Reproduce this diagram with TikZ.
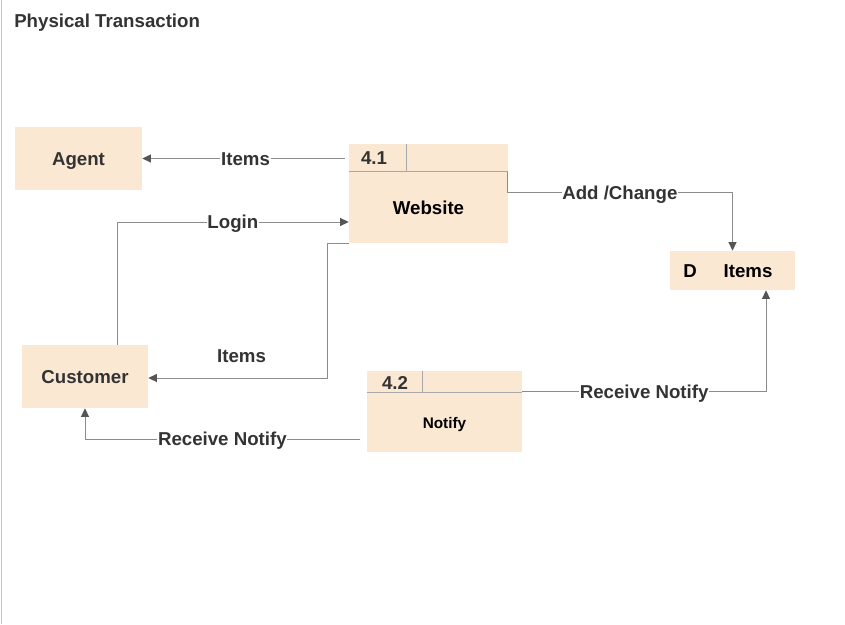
\documentclass[tikz,border=0pt]{standalone}
\usepackage{fontspec}
\setmainfont{Liberation Sans}
\usetikzlibrary{arrows.meta,calc}
\definecolor{boxfill}{HTML}{FBE8D2}
\definecolor{linec}{HTML}{8C8C8C}
\definecolor{arrc}{HTML}{555555}
\definecolor{txt}{HTML}{333333}
\definecolor{divc}{HTML}{A8A8A8}
\tikzset{
  ent/.style={fill=boxfill, draw=none, inner sep=0pt, text=txt, text height=10pt, text depth=0pt, font=\fontsize{14}{16}\selectfont\bfseries},
  flow/.style={draw=linec, line width=0.75pt, -{Triangle[length=6.5pt,width=6pt,color=arrc]}},
  lbl/.style={fill=white, inner sep=0.5pt, text=txt, text height=10pt, text depth=0pt, font=\fontsize{14}{16}\selectfont\bfseries},
  hdr/.style={draw=divc, line width=0.75pt},
  txtb/.style={inner sep=0pt, text height=10pt, text depth=0pt, font=\fontsize{14}{16}\selectfont\bfseries},
}
\begin{document}
\begin{tikzpicture}[x=0.75pt,y=-0.75pt]
\useasboundingbox[fill=white] (0,0) rectangle (845,624);
\draw[draw=gray!45, line width=0.75pt] (1,0) -- (1,624);

\node[txtb, text=txt, anchor=west] (title) at (14,21) {Physical Transaction};

% entities
\node[ent, minimum width=95.25pt, minimum height=47.25pt] (agent) at (78.5,158.5) {Agent};
\node[ent, minimum width=94.5pt, minimum height=47.25pt] (cust) at (85,376.5) {Customer};

% process 4.1
\node[ent, minimum width=119.25pt, minimum height=74.25pt] (web) at (428.5,193.5) {};
\draw[hdr] ($(web.north west)+(0,28)$) -- ($(web.north east)+(0,28)$);
\draw[hdr] ($(web.north west)+(58,0)$) -- ($(web.north west)+(58,28)$);
\node[txtb, text=txt] (web-id) at (374,158) {4.1};
\node[txtb, text=black] (web-name) at (428.5,207.5) {Website};

% process 4.2
\node[ent, minimum width=116.25pt, minimum height=60.75pt] (notify) at (444.5,411.5) {};
\draw[hdr] ($(notify.north west)+(0,22)$) -- ($(notify.north east)+(0,22)$);
\draw[hdr] ($(notify.north west)+(56,0)$) -- ($(notify.north west)+(56,22)$);
\node[txtb, text=txt] (notify-id) at (395,383) {4.2};
\node[inner sep=0pt, text=black, text height=8.2pt, text depth=0pt, font=\fontsize{11.5}{13}\selectfont\bfseries] (notify-name) at (444.5,423) {Notify};

% data store
\node[ent, minimum width=93.75pt, minimum height=29.25pt] (store) at (732.5,270.5) {};
\node[txtb, text=black] (store-d) at (690,271) {D};
\node[txtb, text=black] (store-name) at (748,271) {Items};

% connectors
\draw[flow, shorten <=3pt] (web.west |- agent.east) -- node[lbl, pos=0.5]{Items} (agent.east);
\draw[flow] ($(cust.north)+(32,0)$) |- node[lbl, pos=0.75]{Login} ($(web.west)+(0,28.5)$);
\draw[flow] (web.south west) -- ++(-21,0) |- node[pos=0.74, yshift=17pt, text=txt, inner sep=0pt, text height=10pt, text depth=0pt, font=\fontsize{14}{16}\selectfont\bfseries]{Items} ($(cust.east)+(0,1.5)$);
\draw[flow] ($(web.north east)+(-1,28)$) -- ++(0,21) -| node[lbl, pos=0.25]{Add /Change} (store.north);
\draw[flow] ($(notify.north east)+(0,21)$) -| node[lbl, pos=0.25]{Receive Notify} ($(store.south)+(33.5,0)$);
\draw[flow] ($(notify.west)+(-7,27.5)$) -| node[lbl, pos=0.25]{Receive Notify} (cust.south);
\end{tikzpicture}
\end{document}
